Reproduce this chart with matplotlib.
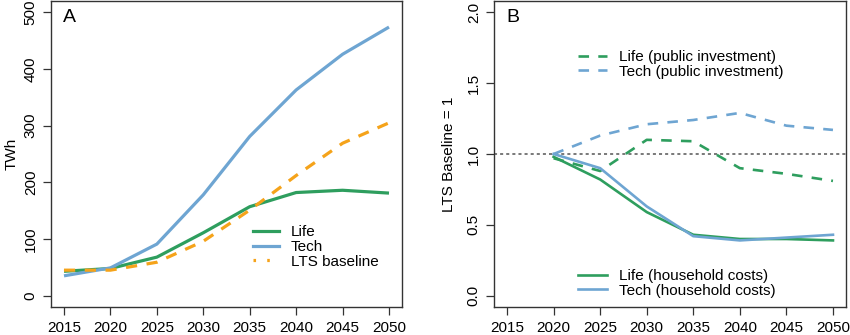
import matplotlib.pyplot as plt
from matplotlib.lines import Line2D

plt.rcParams['font.family'] = ['Liberation Sans', 'DejaVu Sans']
plt.rcParams['font.size'] = 11

years = [2015, 2020, 2025, 2030, 2035, 2040, 2045, 2050]
xticks = years

# panel A: electricity demand, TWh
life_twh = [43, 48, 68, 111, 157, 182, 186, 181]
tech_twh = [35, 49, 91, 178, 281, 363, 426, 474]
lts_twh = [45, 45, 59, 96, 151, 212, 269, 305]

# panel B: relative to LTS baseline, from 2020
years_b = [2020, 2025, 2030, 2035, 2040, 2045, 2050]
life_pub = [0.97, 0.88, 1.10, 1.09, 0.90, 0.86, 0.81]
tech_pub = [1.00, 1.13, 1.21, 1.24, 1.29, 1.20, 1.17]
life_hh = [0.98, 0.82, 0.59, 0.43, 0.40, 0.40, 0.39]
tech_hh = [1.00, 0.90, 0.63, 0.42, 0.39, 0.41, 0.43]

green = '#2e9e5e'
blue = '#6ea5d2'
orange = '#f5a31a'

fig = plt.figure(figsize=(8.5, 3.35), dpi=100)
axA = fig.add_axes([51 / 850, 28 / 335, 351 / 850, 306 / 335])
axB = fig.add_axes([494 / 850, 28 / 335, 352 / 850, 306 / 335])


def r_style(ax, yt, yl):
    ax.set_xlim(2015 - 1.4, 2050 + 1.4)
    ax.set_xticks(xticks)
    ax.set_yticks(yt)
    ax.set_yticklabels(yl, rotation=90, va='center')
    ax.tick_params(direction='out', length=6, color='#333333', width=0.9)
    ax.tick_params(axis='x', pad=4)
    for s in ax.spines.values():
        s.set_color('#333333')
        s.set_linewidth(1.0)


axA.plot(years, life_twh, color=green, lw=2.3, solid_capstyle='butt')
axA.plot(years, tech_twh, color=blue, lw=2.3, solid_capstyle='butt')
axA.plot(years, lts_twh, color=orange, lw=2.3, dashes=(3.5, 3), dash_capstyle='butt')
axA.set_ylim(-20, 520)
r_style(axA, [0, 100, 200, 300, 400, 500], ['0', '100', '200', '300', '400', '500'])
axA.set_ylabel('TWh', labelpad=4)
axA.text(0.035, 0.975, 'A', transform=axA.transAxes, fontsize=14, va='top')
hA = [Line2D([], [], color=green, lw=2.3),
      Line2D([], [], color=blue, lw=2.3),
      Line2D([], [], color=orange, lw=2.3, dashes=(0.8, 3.5))]
axA.legend(hA, ['Life', 'Tech', 'LTS baseline'], loc='lower left',
           bbox_to_anchor=(0.535, 0.08), frameon=False, handlelength=1.7,
           handletextpad=0.8, labelspacing=0.05, fontsize=11)

axB.axhline(1.0, color='#555555', lw=1.1, ls=(0, (2, 2)))
axB.plot(years_b, life_pub, color=green, lw=1.9, dashes=(4, 3.5))
axB.plot(years_b, tech_pub, color=blue, lw=1.9, dashes=(4, 3.5))
axB.plot(years_b, life_hh, color=green, lw=1.9)
axB.plot(years_b, tech_hh, color=blue, lw=1.9)
axB.set_ylim(-0.08, 2.08)
r_style(axB, [0.0, 0.5, 1.0, 1.5, 2.0], ['0.0', '0.5', '1.0', '1.5', '2.0'])
axB.set_ylabel('LTS Baseline = 1', labelpad=8)
axB.text(0.035, 0.975, 'B', transform=axB.transAxes, fontsize=14, va='top')

hB1 = [Line2D([], [], color=green, lw=1.9, dashes=(4, 3.5)),
       Line2D([], [], color=blue, lw=1.9, dashes=(4, 3.5))]
legB1 = axB.legend(hB1, ['Life (public investment)', 'Tech (public investment)'],
                   loc='upper left', bbox_to_anchor=(0.2, 0.885), frameon=False,
                   handlelength=1.9, handletextpad=0.8, labelspacing=0.05, fontsize=11)
axB.add_artist(legB1)
hB2 = [Line2D([], [], color=green, lw=1.9),
       Line2D([], [], color=blue, lw=1.9)]
axB.legend(hB2, ['Life (household costs)', 'Tech (household costs)'],
           loc='lower left', bbox_to_anchor=(0.2, -0.015), frameon=False,
           handlelength=1.9, handletextpad=0.8, labelspacing=0.05, fontsize=11)

fig.savefig('out.png', dpi=100)
